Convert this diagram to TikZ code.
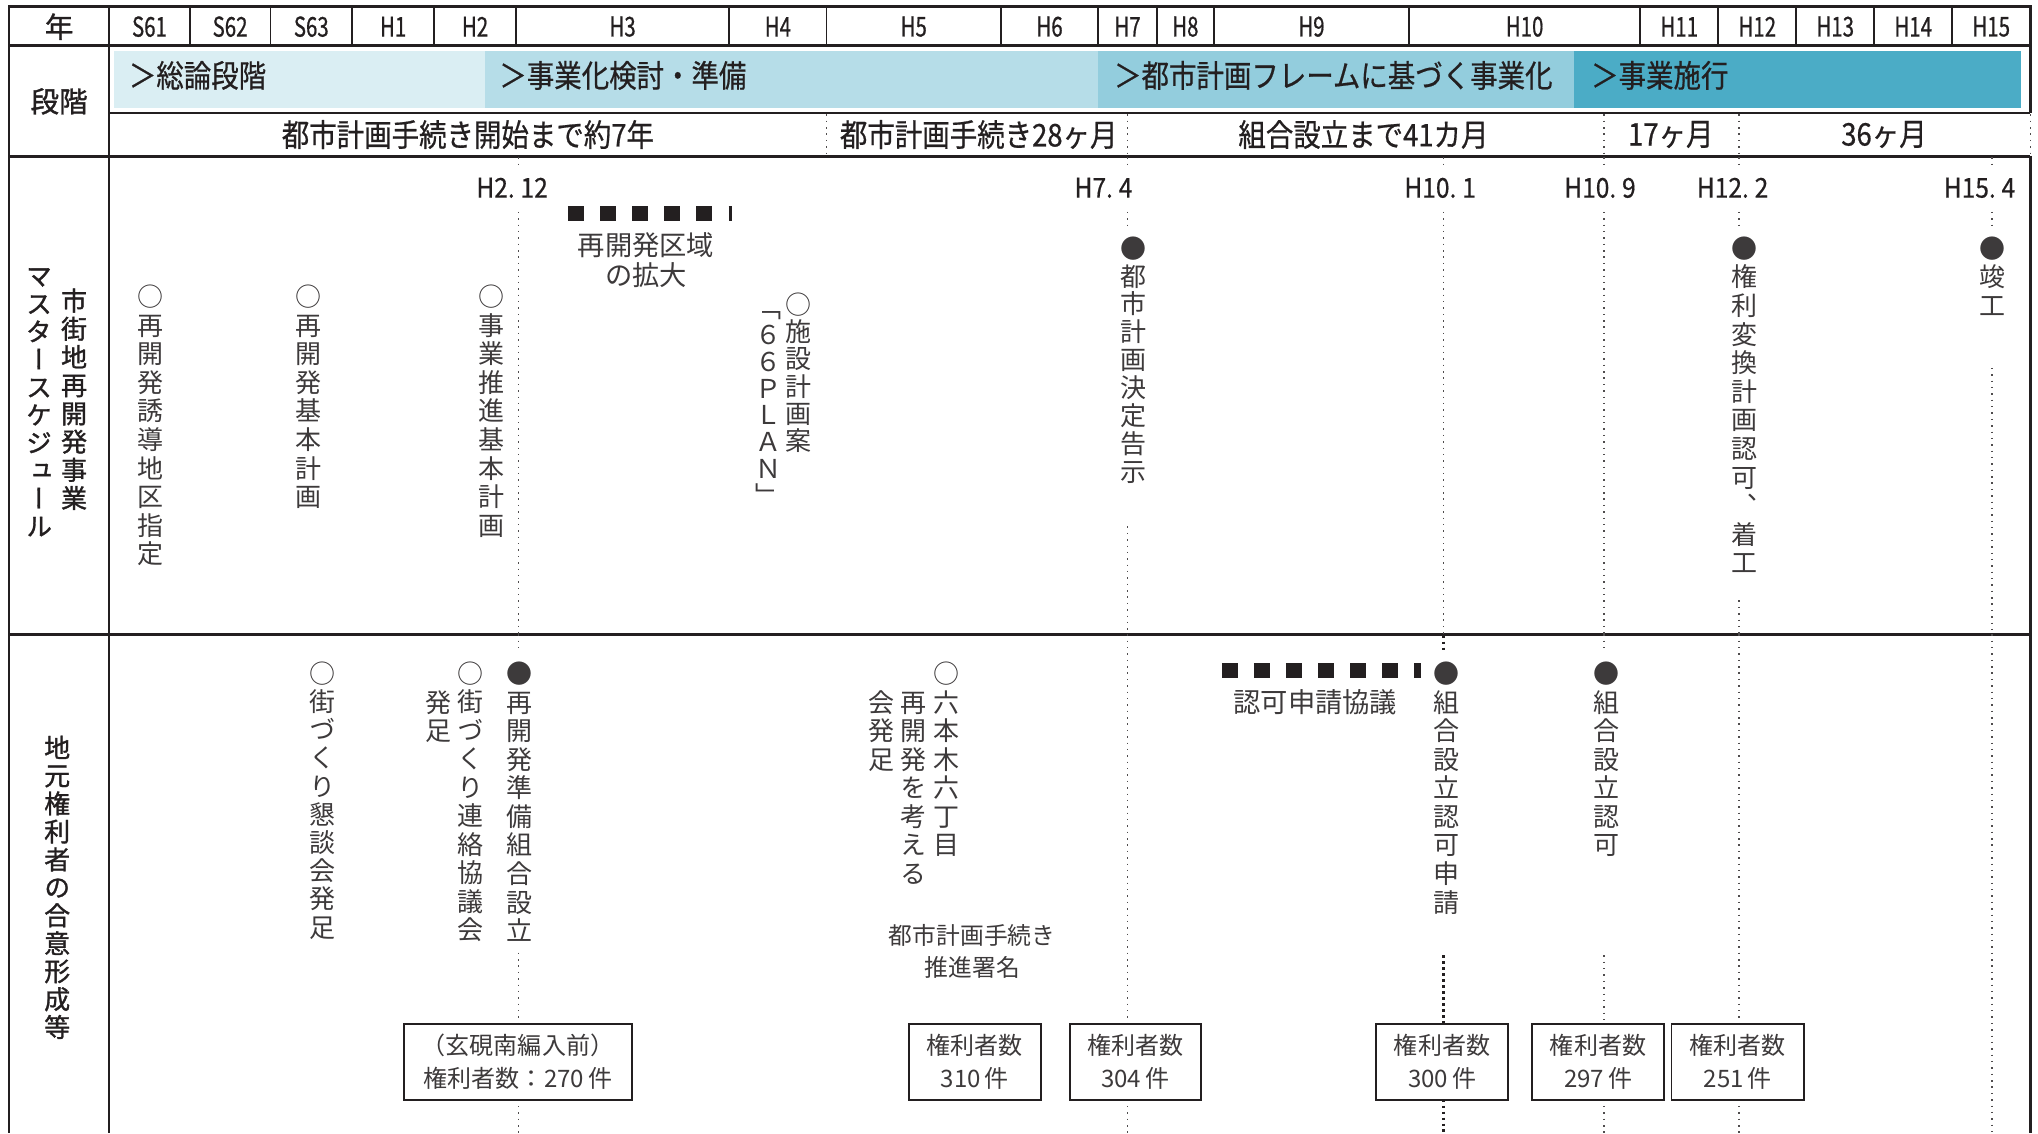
\documentclass[tikz,border=0pt]{standalone}
\usepackage{fontspec}
\setmainfont{Noto Sans CJK JP}
\newfontfamily\jp{Noto Sans CJK JP}
\newfontfamily\jpb[FakeBold=1.2]{Noto Sans CJK JP}
\newfontfamily\jpv[RawFeature=+vert]{Noto Sans CJK JP}
\newfontfamily\jpvb[RawFeature=+vert,FakeBold=1.2]{Noto Sans CJK JP}
\newfontfamily\jpc[FakeStretch=0.75,FakeBold=0.6]{Noto Sans CJK JP}
\newfontfamily\jpl[FakeStretch=0.9,FakeBold=0.5]{Noto Sans CJK JP}
\newfontfamily\jpm[FakeStretch=0.88,FakeBold=0.6]{Noto Sans CJK JP}
\definecolor{barA}{HTML}{DAEEF3}
\definecolor{barB}{HTML}{B6DDE8}
\definecolor{barC}{HTML}{93CDDD}
\definecolor{barD}{HTML}{4BACC6}
\definecolor{ink}{HTML}{231F20}
\makeatletter
\newdimen\vt@h \newdimen\vt@d \newdimen\vt@p
\newcommand\vtcol[2]{%
  \vt@p=#1pt\relax
  \vt@h=0.5\vt@p \advance\vt@h by 0.38em
  \vt@d=\vt@p \advance\vt@d by -\vt@h
  \vbox{\offinterlineskip\vt@loop#2\relax}}
\def\vt@loop#1{\ifx\relax#1\else\hbox to 1.2em{\hss\vrule height\vt@h depth\vt@d width0pt\relax #1\hss}\expandafter\vt@loop\fi}
\makeatother
\tikzset{
  rulethick/.style={line width=2pt, draw=ink},
  colsep/.style={line width=1.3pt, draw=ink},
  dotl/.style={line width=1.1pt, dash pattern=on 1.1pt off 3.8pt, draw=ink!80},
  dotb/.style={line width=2.2pt, dash pattern=on 2.2pt off 2.4pt, draw=ink},
  sqd/.style={line width=11.5pt, dash pattern=on 12.2pt off 12.5pt, draw=ink},
  yearlab/.style={font=\jpc\fontsize{21}{24}\selectfont, inner sep=0pt, text=ink},
  datelab/.style={font=\jpl\fontsize{21}{24}\selectfont, inner sep=0pt, text=ink},
  stagelab/.style={font=\jpm\fontsize{24}{26}\selectfont, inner sep=0pt, anchor=west, text=ink},
  monthlab/.style={font=\jpm\fontsize{24}{26}\selectfont, inner sep=0pt, text=ink},
  sidelab/.style={font=\jpb\fontsize{22}{24}\selectfont, inner sep=0pt, text=ink},
  vcol/.style={inner sep=0pt, anchor=north, font=\jpv\fontsize{20}{22}\selectfont, text=ink!88},
  vside/.style={inner sep=0pt, anchor=north, font=\jpvb\fontsize{20}{22}\selectfont, text=ink},
  bodyA/.style={font=\jp\fontsize{21}{23.5}\selectfont, align=center, inner sep=0pt, text=ink!88},
  bodyB/.style={font=\jp\fontsize{18.3}{25}\selectfont, align=center, inner sep=0pt, text=ink!88},
  cntbox/.style={draw=ink, line width=1.5pt, align=center, inner sep=0pt, minimum height=58pt, font=\jp\fontsize{18.5}{25}\selectfont, text=ink!88},
}
\begin{document}
\begin{tikzpicture}[x=1pt,y=-1pt]
\useasboundingbox (0,0) rectangle (1568,872);
% stage bars
\fill[barA] (88,39) rectangle (373,83);
\fill[barB] (373,39) rectangle (845,83);
\fill[barC] (845,39) rectangle (1211,83);
\fill[barD] (1211,39) rectangle (1555,83);
% frame
\draw[rulethick] (7,5) -- (1562,5);
\draw[rulethick] (7,35) -- (1562,35);
\draw[rulethick] (84,87) -- (1562,87);
\draw[rulethick] (7,120.5) -- (1562,120.5);
\draw[rulethick] (7,488) -- (1562,488);
\draw[rulethick] (7,4) -- (7,872);
\draw[rulethick] (84,4) -- (84,872);
\draw[rulethick] (1562,4) -- (1562,87);
\draw[rulethick] (1562,120) -- (1562,872);
\draw[dotl] (1562,88) -- (1562,120);
\foreach \x in {146,208,271,334,397,561,636,770,845,890,934,1084,1262,1322,1382,1442,1502}
  \draw[colsep] (\x,5) -- (\x,35);
\foreach \x in {636,867.5,1234,1338}
  \draw[dotl] (\x,88) -- (\x,120);
% header texts
\node[sidelab] (nen) at (45.5,20.5) {年};
\node[sidelab] (dankai) at (45.5,78) {段階};
\foreach \t/\x [count=\i] in {S61/115,S62/177,S63/239.5,H1/302.5,H2/365.5,H3/479,H4/598.5,H5/703,H6/807.5,H7/867.5,H8/912,H9/1009,H10/1173,H11/1292,H12/1352,H13/1412,H14/1472,H15/1532}
  \node[yearlab] (yr\i) at (\x,20.5) {\t};
% stage texts
\node[stagelab] (s1) at (99,58) {＞総論段階};
\node[stagelab] (s2) at (384,58) {＞事業化検討・準備};
\node[stagelab] (s3) at (857,58) {＞都市計画フレームに基づく事業化};
\node[stagelab] (s4) at (1224,58) {＞事業施行};
% month texts
\node[monthlab] (m1) at (360,103.5) {都市計画手続き開始まで約7年};
\node[monthlab] (m2) at (753,103.5) {都市計画手続き28ヶ月};
\node[monthlab] (m3) at (1049,103.5) {組合設立まで41カ月};
\node[monthlab] (m4) at (1285.5,103.5) {17ヶ月};
\node[monthlab] (m5) at (1449.5,103.5) {36ヶ月};
% side labels
\node[vside] (la) at (57,220.2) {\vtcol{21.7}{市街地再開発事業}};
\node[vside] (lb) at (30,201.3) {\vtcol{21.4}{マスタースケジュール}};
\node[vside] (lc) at (44,564.25) {\vtcol{21.5}{地元権利者の合意形成等}};
% date labels
\node[datelab] (d1) at (394,144.5) {H2.\kern4.5pt 12};
\node[datelab] (d2) at (849,144.5) {H7.\kern4.5pt 4};
\node[datelab] (d3) at (1108,144.5) {H10.\kern4.5pt 1};
\node[datelab] (d4) at (1231,144.5) {H10.\kern4.5pt 9};
\node[datelab] (d5) at (1333,144.5) {H12.\kern4.5pt 2};
\node[datelab] (d6) at (1523,144.5) {H15.\kern4.5pt 4};
% vertical timeline dotted lines (upper)
\draw[dotl] (399,121) -- (399,129) (399,163) -- (399,488);
\draw[dotl] (867.5,121) -- (867.5,129) (867.5,163) -- (867.5,173) (867.5,405) -- (867.5,488);
\draw[dotl] (1110.5,121) -- (1110.5,129) (1110.5,163) -- (1110.5,488);
\draw[dotl] (1234,121) -- (1234,129) (1234,163) -- (1234,488);
\draw[dotl] (1338,121) -- (1338,129) (1338,163) -- (1338,173) (1338,462) -- (1338,488);
\draw[dotl] (1532.5,121) -- (1532.5,129) (1532.5,163) -- (1532.5,173) (1532.5,283) -- (1532.5,488);
% lower
\draw[dotl] (399,488) -- (399,501) (399,733) -- (399,788) (399,846) -- (399,872);
\draw[dotl] (867.5,488) -- (867.5,788) (867.5,846) -- (867.5,872);
\draw[dotb] (1110.5,489) -- (1110.5,501) (1110.5,735) -- (1110.5,788) (1110.5,846) -- (1110.5,872);
\draw[dotl] (1234,488) -- (1234,501) (1234,735) -- (1234,788) (1234,846) -- (1234,872);
\draw[dotl] (1338,488) -- (1338,788) (1338,846) -- (1338,872);
\draw[dotl] (1532.5,488) -- (1532.5,872);
% square dashed bars
\draw[sqd] (437,164.5) -- (563.5,164.5);
\draw[sqd] (940,516) -- (1093.5,516);
% upper items
\node[bodyA] (kuiki) at (497,200) {再開発区域\\の拡大};
\node[vcol] (u1) at (116,217) {\vtcol{22}{○再開発誘導地区指定}};
\node[vcol] (u2) at (237,217) {\vtcol{22}{○再開発基本計画}};
\node[vcol] (u3) at (378,217) {\vtcol{22}{○事業推進基本計画}};
\node[vcol] (u4a) at (614.5,223.5) {\vtcol{21}{○施設計画案}};
\node[vcol] (u4b) at (591,226) {\vtcol{20.7}{「６６ＰＬＡＮ」}};
\node[vcol] (u5) at (872,180) {\vtcol{21.5}{●都市計画決定告示}};
\node[vcol] (u6) at (1342,180) {\vtcol{22}{●権利変換計画認可、着工}};
\node[vcol] (u7) at (1533,180) {\vtcol{22}{●竣工}};
% lower items
\node[vcol] (l1) at (248,507) {\vtcol{21.7}{○街づくり懇談会発足}};
\node[vcol] (l2a) at (362,507) {\vtcol{21.9}{○街づくり連絡協議会}};
\node[vcol] (l2b) at (337,529) {\vtcol{22}{発足}};
\node[vcol] (l3) at (399.5,507) {\vtcol{22}{●再開発準備組合設立}};
\node[vcol] (l4a) at (728,507) {\vtcol{22}{○六本木六丁目}};
\node[vcol] (l4b) at (703,529) {\vtcol{22}{再開発を考える}};
\node[vcol] (l4c) at (678,529) {\vtcol{22}{会発足}};
\node[vcol] (l5) at (1113,507) {\vtcol{22}{●組合設立認可申請}};
\node[vcol] (l6) at (1236,507) {\vtcol{22}{●組合設立認可}};
\node[bodyA] (kyogi) at (1012,540.5) {認可申請協議};
\node[bodyB] (shomei) at (748,732) {都市計画手続き\\推進署名};
% count boxes
\node[cntbox, minimum width=175pt] (bA) at (398.5,817) {（玄硯南編入前）\\権利者数：270\,件};
\node[cntbox, minimum width=102pt] (bB) at (750,817) {権利者数\\310\,件};
\node[cntbox, minimum width=101pt] (bC) at (873.5,817) {権利者数\\304\,件};
\node[cntbox, minimum width=101pt] (bD) at (1109.5,817) {権利者数\\300\,件};
\node[cntbox, minimum width=101pt] (bE) at (1229.5,817) {権利者数\\297\,件};
\node[cntbox, minimum width=102pt] (bF) at (1337,817) {権利者数\\251\,件};
\end{tikzpicture}
\end{document}
